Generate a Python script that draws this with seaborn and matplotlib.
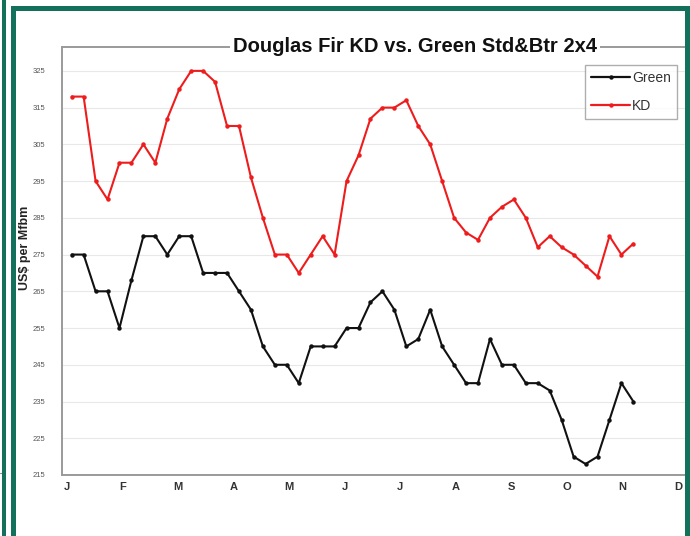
import matplotlib
matplotlib.use("Agg")
import matplotlib.pyplot as plt
from matplotlib.patches import Rectangle
from matplotlib.lines import Line2D
import numpy as np
import pandas as pd
import seaborn as sns

# Weekly prices, US$ per Mfbm
green = [275, 275, 265, 265, 255, 268, 280, 280, 275, 280, 280, 270,
         270, 270, 265, 260, 250, 245, 245, 240, 250, 250, 250, 255,
         255, 262, 265, 260, 250, 252, 260, 250, 245, 240, 240, 252,
         245, 245, 240, 240, 238, 230, 220, 218, 220, 230, 240, 235]
kd = [318, 318, 295, 290, 300, 300, 305, 300, 312, 320, 325, 325,
      322, 310, 310, 296, 285, 275, 275, 270, 275, 280, 275, 295,
      302, 312, 315, 315, 317, 310, 305, 295, 285, 281, 279, 285,
      288, 290, 285, 277, 280, 277, 275, 272, 269, 280, 275, 278]
months = ["J", "F", "M", "A", "M", "J", "J", "A", "S", "O", "N", "D"]
y_ticks = list(range(215, 326, 10))
series_names = ["Green", "KD"]

weeks = np.arange(len(green))
df = pd.DataFrame({
    "week": np.concatenate([weeks, weeks]),
    "price": green + kd,
    "series": [series_names[0]] * len(green) + [series_names[1]] * len(kd),
})

sns.set_style("white")
plt.rcParams["font.family"] = ["Liberation Sans", "DejaVu Sans"]

W, H = 690, 536
fig = plt.figure(figsize=(W / 100, H / 100), dpi=100)
ax = fig.add_axes([62 / W, 1 - 475 / H, (685 - 62) / W, (475 - 47) / H])

sns.lineplot(data=df, x="week", y="price", hue="series",
             palette={"Green": "#111111", "KD": "#ee1c1c"},
             marker="o", markersize=3.2, markeredgewidth=0,
             linewidth=1.5, ax=ax, legend=False)

ax.set_xlim(-0.81, 51.32)
ax.set_ylim(215, 331.5)
ax.set_yticks(y_ticks)
ax.set_yticklabels([str(v) for v in y_ticks], fontsize=5.5, color="#555555")
month_pos = -0.39 + 4.647 * np.arange(len(months))
ax.set_xticks(month_pos)
ax.set_xticklabels(months, fontsize=8, fontweight="bold", color="#333333")
ax.tick_params(axis="y", length=0, pad=12)
ax.tick_params(axis="x", length=0, pad=5)
ax.set_xlabel("")
ax.set_ylabel("US$ per Mfbm", fontsize=9, fontweight="bold", color="#222222")
ax.yaxis.set_label_coords(-0.049, 0.53)

ax.grid(axis="y", color="#e8e8e8", linewidth=0.8)
ax.set_axisbelow(True)
for side in ["left", "bottom", "top"]:
    ax.spines[side].set_color("#9a9a9a")
    ax.spines[side].set_linewidth(1.4)
ax.spines["right"].set_visible(False)

handles = [Line2D([], [], color="#111111", marker="o", markersize=3.2,
                  markeredgewidth=0, linewidth=1.6),
           Line2D([], [], color="#ee1c1c", marker="o", markersize=3.2,
                  markeredgewidth=0, linewidth=1.6)]
leg = ax.legend(handles, series_names, loc="upper left",
                bbox_to_anchor=((585 - 62) / 623, (475 - 65) / 428),
                borderaxespad=0, fontsize=10, frameon=True, fancybox=False,
                handlelength=2.8, handletextpad=0.15, labelspacing=1.0,
                borderpad=0.45)
leg.get_frame().set_edgecolor("#9a9a9a")
leg.get_frame().set_linewidth(1.0)
for t in leg.get_texts():
    t.set_color("#333333")

# Title sitting on the top frame line
fig.text(415 / W, 1 - 47 / H, "Douglas Fir KD vs. Green Std&Btr 2x4",
         ha="center", va="center", fontsize=14.5, fontweight="bold",
         color="#111111",
         bbox=dict(facecolor="white", edgecolor="none", pad=2))

# Green page border
border = "#13705a"
def px_rect(x0, y0, x1, y1, color):
    fig.patches.append(Rectangle((x0 / W, 1 - y1 / H), (x1 - x0) / W,
                                 (y1 - y0) / H, transform=fig.transFigure,
                                 facecolor=color, edgecolor="none",
                                 zorder=10))

px_rect(2, 0, 6, H, border)
px_rect(11, 6, 16, H, border)
px_rect(11, 6, W, 11, border)
px_rect(685, 6, W, H, border)
fig.lines.append(Line2D([0, 2 / W], [1 - 473 / H, 1 - 473 / H],
                        transform=fig.transFigure, color="#888888",
                        linewidth=0.8))

fig.savefig("out.png", dpi=100, facecolor="white")
